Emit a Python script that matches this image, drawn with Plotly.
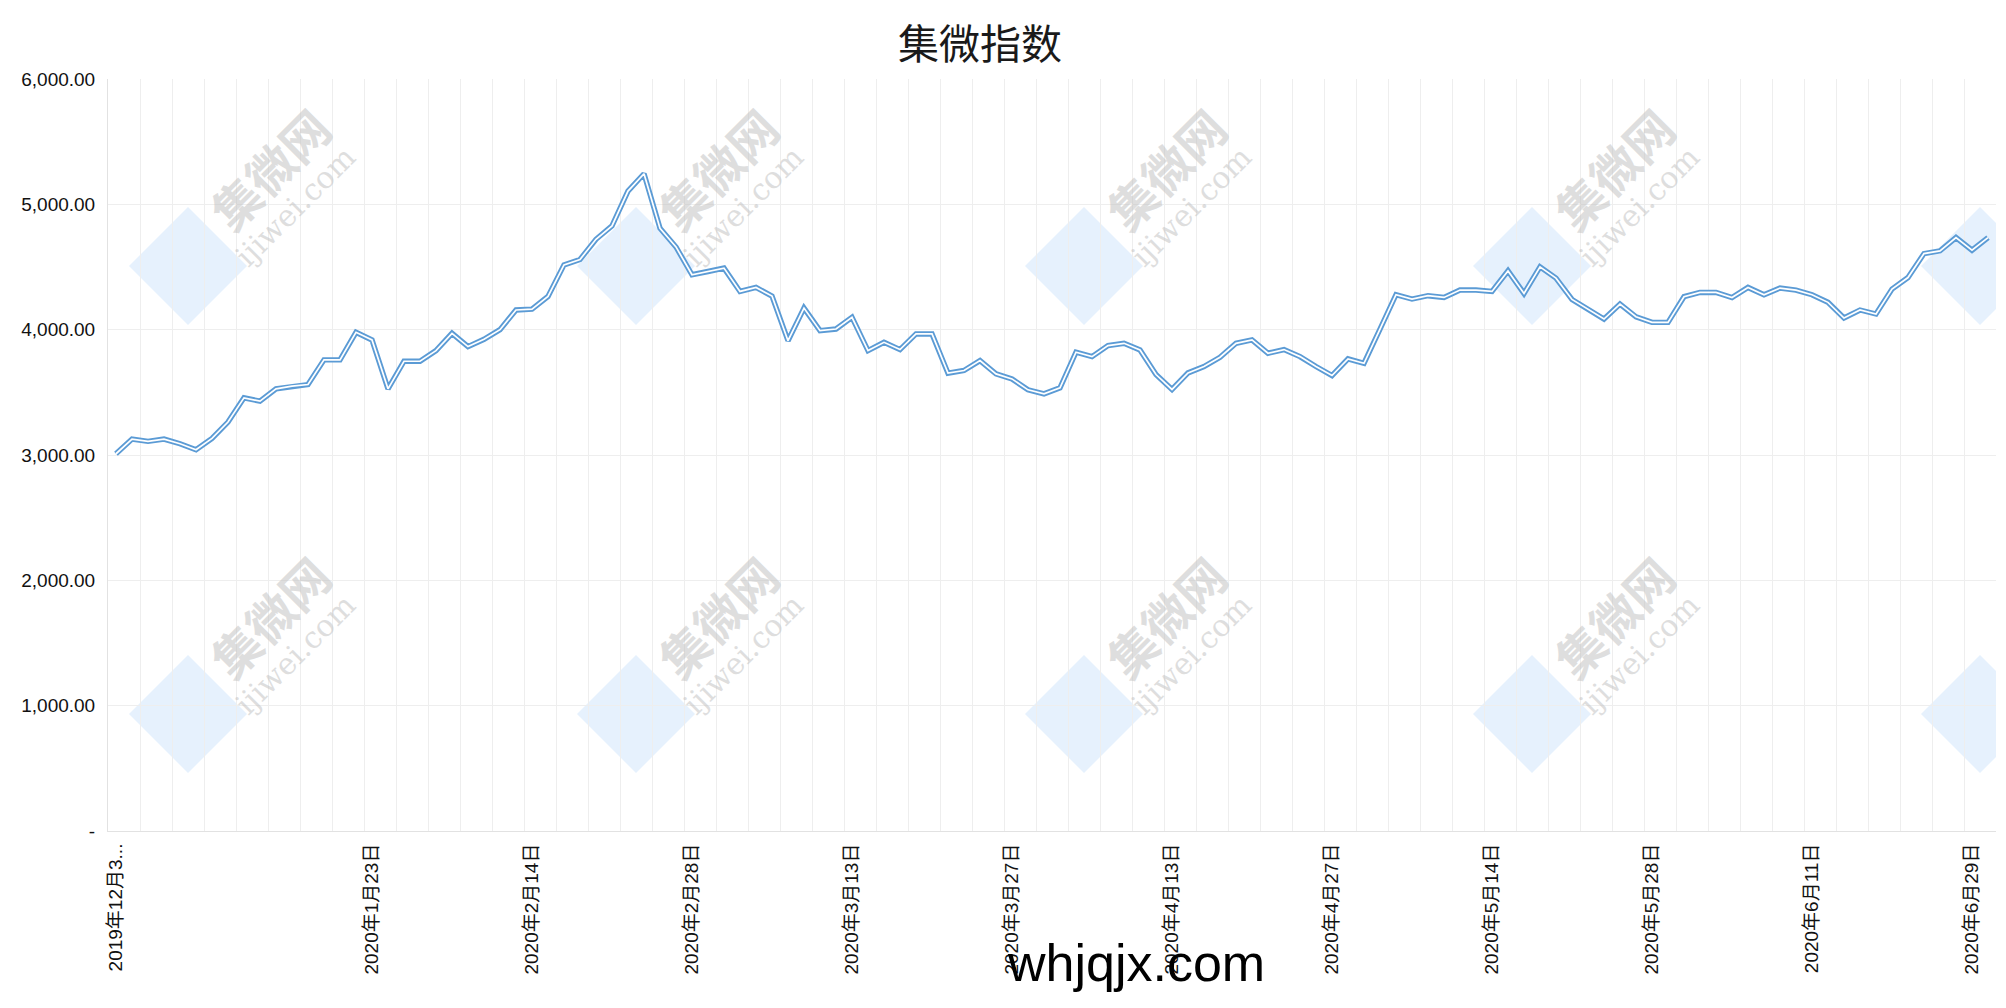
import plotly.graph_objects as go

# ---------------- data ----------------
dates = [
    "2019年12月31日",
    "2020年1月2日", "2020年1月3日", "2020年1月6日", "2020年1月7日", "2020年1月8日", "2020年1月9日",
    "2020年1月10日", "2020年1月13日", "2020年1月14日", "2020年1月15日", "2020年1月16日", "2020年1月17日",
    "2020年1月20日", "2020年1月21日", "2020年1月22日", "2020年1月23日",
    "2020年2月3日", "2020年2月4日", "2020年2月5日", "2020年2月6日", "2020年2月7日",
    "2020年2月10日", "2020年2月11日", "2020年2月12日", "2020年2月13日", "2020年2月14日",
    "2020年2月17日", "2020年2月18日", "2020年2月19日", "2020年2月20日", "2020年2月21日",
    "2020年2月24日", "2020年2月25日", "2020年2月26日", "2020年2月27日", "2020年2月28日",
    "2020年3月2日", "2020年3月3日", "2020年3月4日", "2020年3月5日", "2020年3月6日",
    "2020年3月9日", "2020年3月10日", "2020年3月11日", "2020年3月12日", "2020年3月13日",
    "2020年3月16日", "2020年3月17日", "2020年3月18日", "2020年3月19日", "2020年3月20日",
    "2020年3月23日", "2020年3月24日", "2020年3月25日", "2020年3月26日", "2020年3月27日",
    "2020年3月30日", "2020年3月31日",
    "2020年4月1日", "2020年4月2日", "2020年4月3日",
    "2020年4月7日", "2020年4月8日", "2020年4月9日", "2020年4月10日",
    "2020年4月13日", "2020年4月14日", "2020年4月15日", "2020年4月16日", "2020年4月17日",
    "2020年4月20日", "2020年4月21日", "2020年4月22日", "2020年4月23日", "2020年4月24日",
    "2020年4月27日", "2020年4月28日", "2020年4月29日", "2020年4月30日",
    "2020年5月6日", "2020年5月7日", "2020年5月8日",
    "2020年5月11日", "2020年5月12日", "2020年5月13日", "2020年5月14日", "2020年5月15日",
    "2020年5月18日", "2020年5月19日", "2020年5月20日", "2020年5月21日", "2020年5月22日",
    "2020年5月25日", "2020年5月26日", "2020年5月27日", "2020年5月28日", "2020年5月29日",
    "2020年6月1日", "2020年6月2日", "2020年6月3日", "2020年6月4日", "2020年6月5日",
    "2020年6月8日", "2020年6月9日", "2020年6月10日", "2020年6月11日", "2020年6月12日",
    "2020年6月15日", "2020年6月16日", "2020年6月17日", "2020年6月18日", "2020年6月19日",
    "2020年6月22日", "2020年6月23日", "2020年6月24日",
    "2020年6月29日", "2020年6月30日",
]

index_values = [
    3010, 3127, 3109, 3127, 3090, 3042, 3133, 3263, 3456, 3430,
    3528, 3549, 3562, 3759, 3759, 3979, 3918, 3528, 3748, 3748,
    3833, 3971, 3865, 3923, 4000, 4157, 4164, 4265, 4517, 4560,
    4721, 4828, 5106, 5244, 4809, 4660, 4438, 4464, 4491, 4305,
    4337, 4268, 3912, 4172, 3992, 4005, 4098, 3833, 3899, 3841,
    3966, 3966, 3653, 3674, 3753, 3647, 3607, 3520, 3488, 3536,
    3820, 3785, 3873, 3891, 3838, 3642, 3523, 3655, 3706, 3780,
    3891, 3918, 3812, 3841, 3785, 3706, 3634, 3767, 3732, 4005,
    4279, 4244, 4271, 4257, 4316, 4316, 4305, 4469, 4289, 4501,
    4411, 4241, 4162, 4085, 4204, 4103, 4058, 4058, 4263, 4297,
    4297, 4257, 4337, 4279, 4332, 4316, 4279, 4218, 4093, 4157,
    4125, 4324, 4416, 4607, 4629, 4735, 4634, 4735,
]

tick_dates = [
    "2019年12月31日", "2020年1月23日", "2020年2月14日", "2020年2月28日",
    "2020年3月13日", "2020年3月27日", "2020年4月13日", "2020年4月27日",
    "2020年5月14日", "2020年5月28日", "2020年6月11日", "2020年6月29日",
]
tick_text = [
    "2019年12月3...", "2020年1月23日", "2020年2月14日", "2020年2月28日",
    "2020年3月13日", "2020年3月27日", "2020年4月13日", "2020年4月27日",
    "2020年5月14日", "2020年5月28日", "2020年6月11日", "2020年6月29日",
]

y_tickvals = [0, 1000, 2000, 3000, 4000, 5000, 6000]
y_ticktext = ["-", "1,000.00", "2,000.00", "3,000.00", "4,000.00", "5,000.00", "6,000.00"]

title_text = "集微指数"
overlay_text = "whjqjx.com"
wm_cn = "集微网"
wm_en = "ijiwei.com"

# ---------------- layout geometry ----------------
# page pixels; the html body adds an 8px margin around the figure
OFF = 8
PAGE_W, PAGE_H = 2006, 1008
W, H = PAGE_W - 2 * OFF, PAGE_H - 2 * OFF
PLOT_L, PLOT_T, PLOT_R, PLOT_B = 108, 79, 1996, 831      # page coordinates of the plot box
L, T = PLOT_L - OFF, PLOT_T - OFF
R, B = W - (PLOT_R - OFF), H - (PLOT_B - OFF)
PW, PH = PLOT_R - PLOT_L, PLOT_B - PLOT_T
n = len(dates)
YMAX = 6000

def px_x2(px):
    return (px - PLOT_L) / (PW / n) - 0.5

def px_y(py):
    return (PLOT_B - py) * YMAX / PH

def paper_x(px):
    return (px - PLOT_L) / PW

def paper_y(py):
    return (PLOT_B - py) / PH

FONT = "Liberation Sans, Arial, Noto Sans CJK SC, sans-serif"

fig = go.Figure()

# invisible trace that carries the grid axis
fig.add_trace(go.Scatter(
    x=list(range(n)), y=index_values, xaxis="x2", mode="lines",
    line=dict(width=0, color="rgba(0,0,0,0)"), hoverinfo="skip", showlegend=False,
))
# double line: blue outer, white inner
fig.add_trace(go.Scatter(
    x=dates, y=index_values, mode="lines",
    line=dict(color="#5B9BD5", width=5.4), showlegend=False, name="集微指数",
))
fig.add_trace(go.Scatter(
    x=dates, y=index_values, mode="lines",
    line=dict(color="#FFFFFF", width=1.7), showlegend=False, hoverinfo="skip",
))

# watermark tiles
shapes = []
annotations = []
for r in range(2):
    for k in range(5):
        cx, cy = 188 + 448 * k, 266 + 448 * r
        h = 59
        path = "M {},{} L {},{} L {},{} L {},{} Z".format(
            px_x2(cx), px_y(cy - h), px_x2(cx + h), px_y(cy),
            px_x2(cx), px_y(cy + h), px_x2(cx - h), px_y(cy))
        shapes.append(dict(type="path", path=path, xref="x2", yref="y",
                           fillcolor="rgba(214,232,252,0.6)", line=dict(width=0),
                           layer="below"))
        if k < 4:
            annotations.append(dict(x=paper_x(cx + 81), y=paper_y(cy - 98), xref="paper", yref="paper",
                                    xanchor="center", yanchor="middle",
                                    text="<b>" + wm_cn + "</b>", showarrow=False, textangle=-45,
                                    font=dict(size=48, color="rgba(190,190,190,0.5)",
                                              family="Noto Sans CJK SC")))
            annotations.append(dict(x=paper_x(cx + 107), y=paper_y(cy - 60), xref="paper", yref="paper",
                                    xanchor="center", yanchor="middle",
                                    text=wm_en, showarrow=False, textangle=-45,
                                    font=dict(size=30, color="rgba(190,190,190,0.5)",
                                              family="DejaVu Serif")))

annotations.append(dict(x=paper_x(1136), y=paper_y(963), xref="paper", yref="paper",
                        xanchor="center", yanchor="middle",
                        text=overlay_text, showarrow=False,
                        font=dict(size=52, color="#000000", family="Liberation Sans, Arial")))

fig.update_layout(
    width=W, height=H,
    margin=dict(l=L, r=R, t=T, b=B, pad=0, autoexpand=False),
    paper_bgcolor="white", plot_bgcolor="white",
    title=dict(text=title_text, x=(980 - OFF) / W, y=1 - (45 - OFF) / H,
               xref="container", yref="container",
               xanchor="center", yanchor="middle",
               font=dict(size=41, color="#1a1a1a", family="Noto Sans CJK SC")),
    xaxis=dict(
        type="category", range=[-0.5, n - 0.5], automargin=False,
        tickmode="array", tickvals=tick_dates, ticktext=tick_text, tickangle=-90,
        showgrid=False, showline=True, linecolor="#e2e2e2", linewidth=1,
        ticks="", ticklabelstandoff=4, zeroline=False,
        tickfont=dict(size=19, color="#111111", family=FONT),
    ),
    xaxis2=dict(
        overlaying="x", type="linear", range=[-0.5, n - 0.5], automargin=False,
        tickmode="linear", tick0=-0.5, dtick=2,
        showgrid=True, gridcolor="#eeeeee", gridwidth=1,
        showticklabels=False, ticks="", zeroline=False, showline=False,
    ),
    yaxis=dict(
        range=[0, YMAX], tickmode="array", tickvals=y_tickvals, ticktext=y_ticktext,
        automargin=False,
        showgrid=True, gridcolor="#eeeeee", gridwidth=1,
        showline=True, linecolor="#e2e2e2", linewidth=1, zeroline=False,
        ticks="", ticklabelstandoff=8,
        tickfont=dict(size=19, color="#111111", family=FONT),
    ),
    shapes=shapes,
    annotations=annotations,
    showlegend=False,
)

fig.write_html("out.html")
